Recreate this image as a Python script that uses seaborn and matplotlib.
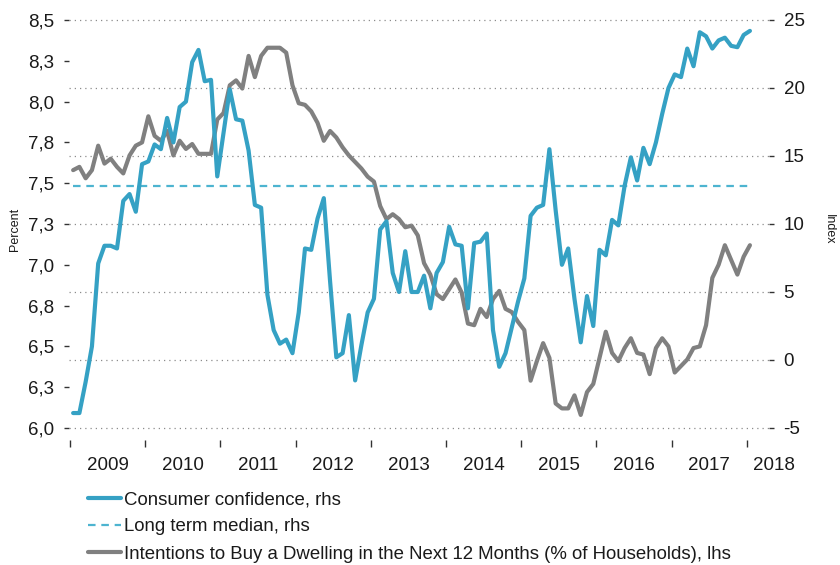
import numpy as np
import pandas as pd
import matplotlib
matplotlib.use("Agg")
import matplotlib.pyplot as plt
import matplotlib.transforms as mtransforms
import seaborn as sns

sns.set_theme(style="white")
plt.rcParams['font.family'] = ['Liberation Sans', 'DejaVu Sans']

# monthly, Jan 2009 - Jan 2018
confidence = [
    -3.9, -3.9, -1.6, 1.0, 7.1, 8.4, 8.4, 8.2, 11.7, 12.2, 10.9, 14.4,
    14.6, 15.85, 15.5, 17.8, 16.0, 18.6, 19.0, 21.9, 22.8, 20.5, 20.6, 13.5,
    16.7, 19.9, 17.7, 17.6, 15.4, 11.4, 11.2, 4.8, 2.2, 1.2, 1.5, 0.5,
    3.5, 8.2, 8.1, 10.4, 11.9, 5.8, 0.2, 0.5, 3.3, -1.5, 1.1, 3.5,
    4.5, 9.6, 10.2, 6.4, 5.0, 8.0, 5.0, 5.0, 6.2, 3.8, 6.4, 7.2,
    9.8, 8.5, 8.4, 3.8, 8.6, 8.7, 9.3, 2.2, -0.5, 0.5, 2.4, 4.3,
    6.0, 10.6, 11.2, 11.4, 15.5, 11.0, 7.0, 8.2, 4.5, 1.3, 4.7, 2.5,
    8.1, 7.7, 10.3, 9.9, 12.8, 14.9, 13.2, 15.6, 14.4, 16.0, 18.1, 20.0,
    21.0, 20.8, 22.9, 21.6, 24.1, 23.8, 22.9, 23.5, 23.7, 23.1, 23.0, 23.9,
    24.2,
]
intentions = [
    7.58, 7.60, 7.53, 7.58, 7.73, 7.62, 7.65, 7.60, 7.56, 7.67, 7.73, 7.75,
    7.91, 7.79, 7.76, 7.82, 7.67, 7.76, 7.71, 7.74, 7.68, 7.68, 7.68, 7.89,
    7.93, 8.10, 8.13, 8.08, 8.28, 8.15, 8.28, 8.33, 8.33, 8.33, 8.30, 8.10,
    7.99, 7.98, 7.94, 7.87, 7.76, 7.82, 7.78, 7.72, 7.67, 7.63, 7.59, 7.54,
    7.51, 7.36, 7.28, 7.31, 7.28, 7.23, 7.24, 7.18, 7.01, 6.94, 6.82, 6.79,
    6.85, 6.91, 6.83, 6.64, 6.63, 6.73, 6.68, 6.79, 6.84, 6.73, 6.71, 6.65,
    6.60, 6.29, 6.41, 6.52, 6.43, 6.15, 6.12, 6.12, 6.20, 6.08, 6.22, 6.27,
    6.43, 6.59, 6.46, 6.41, 6.49, 6.55, 6.46, 6.45, 6.33, 6.49, 6.55, 6.50,
    6.34, 6.38, 6.42, 6.49, 6.50, 6.63, 6.92, 7.00, 7.12, 7.03, 6.94, 7.05,
    7.12,
]
median_confidence = 12.8

left_ticks = [6.0, 6.25, 6.5, 6.75, 7.0, 7.25, 7.5, 7.75, 8.0, 8.25, 8.5]
left_labels = ["6,0", "6,3", "6,5", "6,8", "7,0", "7,3", "7,5", "7,8", "8,0", "8,3", "8,5"]
right_ticks = [-5, 0, 5, 10, 15, 20, 25]
years = [2009, 2010, 2011, 2012, 2013, 2014, 2015, 2016, 2017, 2018]

dates = pd.date_range("2009-01-01", periods=len(confidence), freq="MS")
t = dates.year + (dates.month - 0.5) / 12

BLUE = "#35A1C4"
MEDIAN = "#4DB4D0"
GRAY = "#808080"
TXT = "#1a1a1a"

fig = plt.figure(figsize=(8.4, 5.65), dpi=100)
W, H = 840, 565
L, R, T, B = 69, 769, 18, 440
ax = fig.add_axes([L / W, 1 - B / H, (R - L) / W, (B - T) / H])
ax2 = ax.twinx()

sns.lineplot(x=t, y=intentions, ax=ax, color=GRAY, lw=3.0,
             label="Intentions to Buy a Dwelling in the Next 12 Months (% of Households), lhs")
sns.lineplot(x=t, y=[median_confidence] * len(t), ax=ax2, color=MEDIAN, lw=1.6,
             label="Long term median, rhs").lines[-1].set_dashes((3.4, 2.6))
sns.lineplot(x=t, y=confidence, ax=ax2, color=BLUE, lw=3.0, label="Consumer confidence, rhs")

# right axis: 13.6 px per unit, -5 at y=428, 25 at y=20
px = 408 / 30
r_lo = -5 - (B - 428) / px
r_hi = 25 + (20 - T) / px
ax2.set_ylim(r_lo, r_hi)
ax.set_ylim(6 + (r_lo + 5) / 12, 6 + (r_hi + 5) / 12)
xl = 2009 - 1 / 75.2
ax.set_xlim(xl, xl + (R - L) / 75.2)

ax.set_yticks(left_ticks)
ax.set_yticklabels(left_labels)
ax2.set_yticks(right_ticks)
ax2.set_yticklabels([str(v) for v in right_ticks])

ax2.grid(axis="y", color="#8c8c8c", linestyle=(0, (1, 3.2)), lw=0.9)
ax.grid(False)
ax2.set_zorder(ax.get_zorder() + 1)

for a in (ax, ax2):
    for s in a.spines.values():
        s.set_visible(False)
    if a.get_legend() is not None:
        a.get_legend().remove()

ax.set_xlabel("")
ax.set_xticks(years)
ax.set_xticklabels([])
ax.tick_params(axis="x", bottom=True, length=5, width=1, color="#333333", direction="out")
ax.tick_params(axis="y", left=True, length=3.5, width=1, color="#333333", pad=7, labelsize=13.5,
               labelcolor=TXT)
ax2.tick_params(axis="y", right=True, length=3.5, width=1, color="#333333", pad=7, labelsize=13.5,
                labelcolor=TXT)

trans = mtransforms.blended_transform_factory(ax.transData, ax.transAxes)
label_x = [y + 0.5 for y in years[:-1]] + [years[-1] + 0.36]
for x, yr in zip(label_x, years):
    ax.text(x, -(465 - B) / (B - T), str(yr), transform=trans, ha="center", va="center",
            fontsize=13.5, color=TXT, clip_on=False)

ax.set_ylabel("Percent", fontsize=9, labelpad=5, color=TXT)
ax2.set_ylabel("Index", fontsize=9, labelpad=13, rotation=270, va="bottom", color=TXT)

h1, l1 = ax2.get_legend_handles_labels()
h2, l2 = ax.get_legend_handles_labels()
handles = [h1[1], h1[0], h2[0]]
labels = [l1[1], l1[0], l2[0]]
fig.legend(handles, labels, loc="upper left", bbox_to_anchor=(88 / W, 1 - 491 / H),
           frameon=False, fontsize=13.4, handlelength=1.75, handletextpad=0.2,
           labelspacing=0.55, borderpad=0, borderaxespad=0, labelcolor=TXT)

fig.savefig("out.png", dpi=100)
